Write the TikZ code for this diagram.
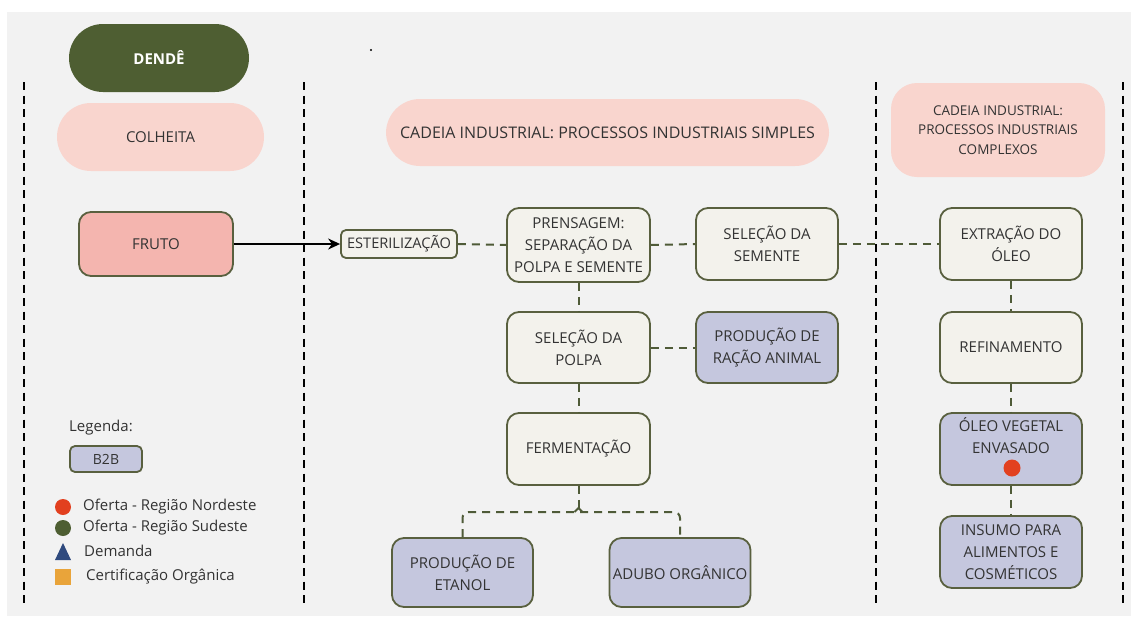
\documentclass[tikz,border=0pt]{standalone}
\usepackage{fontspec}
\setmainfont{Open Sans}
\usetikzlibrary{arrows.meta}
\definecolor{bggray}{HTML}{F2F2F2}
\definecolor{olive}{HTML}{4E5E32}
\definecolor{pinkhead}{HTML}{F9D5CE}
\definecolor{frutofill}{HTML}{F4B5AF}
\definecolor{lightbox}{HTML}{F3F2EC}
\definecolor{lav}{HTML}{C5C7DE}
\definecolor{boxline}{HTML}{59603F}
\definecolor{dashline}{HTML}{4F5B38}
\definecolor{txt}{HTML}{333333}
\definecolor{redmark}{HTML}{E2401F}
\definecolor{bluemark}{HTML}{2F4A7E}
\definecolor{orangemark}{HTML}{E9A43A}
\tikzset{
  every node/.style={font=\fontsize{15}{22}\selectfont, text=txt, align=center, inner sep=0pt},
  header/.style={fill=pinkhead, rounded corners=#1},
  header/.default=34pt,
  procbox/.style={draw=boxline, line width=1.8pt, rounded corners=12pt, fill=lightbox,
    minimum width=142pt, minimum height=72pt},
  b2bbox/.style={procbox, fill=lav},
  flow/.style={draw=dashline, line width=2pt, dash pattern=on 8pt off 6pt},
  lane/.style={draw=black, line width=2.1pt, dash pattern=on 8pt off 5.5pt},
  legtext/.style={anchor=west, font=\fontsize{15}{18}\selectfont}
}
\begin{document}
\begin{tikzpicture}[x=1pt, y=-1pt]
\useasboundingbox (0,0) rectangle (1131,616);
\fill[white] (0,0) rectangle (1131,616);
\fill[bggray] (7,12) rectangle (1131,616);
\fill[black] (371,50) circle (1.2pt);

% lane separators
\draw[lane] (24,82) -- (24,606);
\draw[lane] (304,82) -- (304,606);
\draw[lane] (876,82) -- (876,606);
\draw[lane] (1123,82) -- (1123,606);

% headers
\node[header, fill=olive, minimum width=180pt, minimum height=68pt, text=white,
  font=\fontsize{15}{18}\selectfont\bfseries] (dende) at (159,58) {DENDÊ};
\node[header, minimum width=207pt, minimum height=68pt] (colheita) at (160.5,137) {COLHEITA};
\node[header, minimum width=443pt, minimum height=67pt, font=\fontsize{16}{20}\selectfont] (simples) at (607.5,132.5)
  {CADEIA INDUSTRIAL: PROCESSOS INDUSTRIAIS SIMPLES};
\node[header=26pt, minimum width=214pt, minimum height=94pt,
  font=\fontsize{13.5}{19.5}\selectfont] (complexos) at (998,130)
  {CADEIA INDUSTRIAL:\\PROCESSOS INDUSTRIAIS\\COMPLEXOS};

% process boxes
\node[procbox, fill=frutofill, minimum width=154pt, minimum height=64pt] (fruto) at (156,244) {FRUTO};
\node[procbox, rounded corners=5pt, minimum width=116pt, minimum height=28pt,
  font=\fontsize{14.6}{16}\selectfont] (ester) at (399,244) {ESTERILIZAÇÃO};
\node[procbox, minimum width=143pt, minimum height=74pt] (prensa) at (578.5,245)
  {PRENSAGEM:\\SEPARAÇÃO DA\\POLPA E SEMENTE};
\node[procbox] (semente) at (767,244) {SELEÇÃO DA\\SEMENTE};
\node[procbox] (extracao) at (1011,244) {EXTRAÇÃO DO\\ÓLEO};
\node[procbox, minimum width=143pt, minimum height=71pt] (polpa) at (578.5,347.5) {SELEÇÃO DA\\POLPA};
\node[b2bbox, minimum height=71pt] (racao) at (767,347.5) {PRODUÇÃO DE\\RAÇÃO ANIMAL};
\node[procbox, minimum height=71pt] (refino) at (1011,347.5) {REFINAMENTO};
\node[procbox, minimum width=143pt] (ferm) at (578.5,449) {FERMENTAÇÃO};
\node[b2bbox] (oleo) at (1011,449) {};
\node[anchor=north] (oleotxt) at (1011,417) {ÓLEO VEGETAL\\ENVASADO};
\node[circle, fill=redmark, minimum size=17pt] (oleodot) at (1012,468) {};
\node[b2bbox, minimum width=141pt, minimum height=69pt] (etanol) at (462.5,572.5) {PRODUÇÃO DE\\ETANOL};
\node[b2bbox, minimum width=141pt, minimum height=69pt] (adubo) at (680,572.5) {ADUBO ORGÂNICO};
\node[b2bbox] (insumo) at (1011,552) {INSUMO PARA\\ALIMENTOS E\\COSMÉTICOS};

% connectors
\draw[line width=1.6pt, -{Stealth[length=12pt, width=11pt]}] (fruto.east) -- (ester.west);
\draw[flow] (ester.east) -- (prensa.west);
\draw[flow] (prensa.east) -- (semente.west);
\draw[flow] (semente.east) -- (extracao.west);
\draw[flow] (prensa.south) -- (polpa.north);
\draw[flow] (polpa.east) -- (racao.west);
\draw[flow] (polpa.south) -- (ferm.north);
\coordinate (split) at (578.5,508);
\draw[flow] (ferm.south) -- (split);
\draw[flow, rounded corners=6pt] (etanol.north) -- (462.5,512) -- (680,512) -- (adubo.north);
\draw[dashline, line width=2pt] (574.5,512) -- (split) -- (582.5,512);
\draw[flow] (extracao.south) -- (refino.north);
\draw[flow] (refino.south) -- (oleo.north);
\draw[flow] (oleo.south) -- (insumo.north);

% legend
\node[anchor=west, font=\fontsize{15}{18}\selectfont] (legenda) at (69,428) {Legenda:};
\node[b2bbox, rounded corners=5pt, minimum width=72pt, minimum height=26pt,
  font=\fontsize{14}{16}\selectfont] (b2b) at (106,459) {B2B};
\node[circle, fill=redmark, minimum size=16pt] (legred) at (63,507) {};
\node[legtext] (legredtxt) at (83,507) {Oferta - Região Nordeste};
\node[circle, fill=olive, minimum size=16pt] (leggreen) at (63,528) {};
\node[legtext] (leggreentxt) at (83,528) {Oferta - Região Sudeste};
\fill[bluemark] (55,560) -- (71,560) -- (63,543) -- cycle;
\node[legtext] (legbluetxt) at (84,551) {Demanda};
\fill[orangemark] (55,569) rectangle (71,585);
\node[legtext] (legorangetxt) at (86,577) {Certificação Orgânica};
\end{tikzpicture}
\end{document}
